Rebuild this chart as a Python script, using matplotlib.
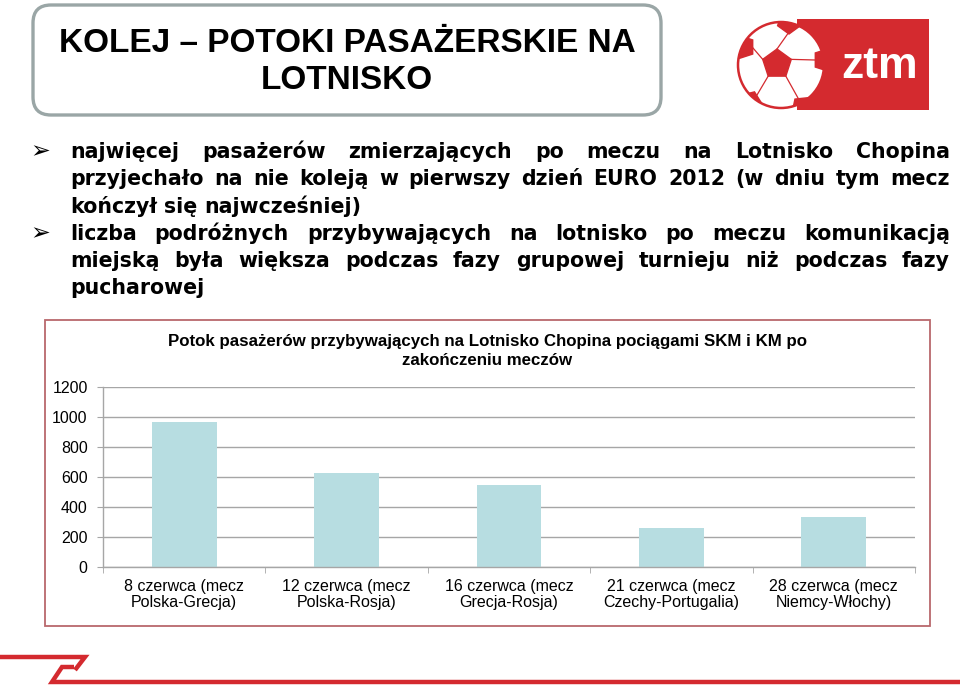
import numpy as np
import matplotlib.pyplot as plt
from matplotlib.patches import Rectangle, FancyBboxPatch, Circle, Polygon

# dane
kategorie = ['8 czerwca (mecz\nPolska-Grecja)', '12 czerwca (mecz\nPolska-Rosja)',
             '16 czerwca (mecz\nGrecja-Rosja)', '21 czerwca (mecz\nCzechy-Portugalia)',
             '28 czerwca (mecz\nNiemcy-Włochy)']
pasazerowie = [969, 625, 547, 262, 335]
y_ticks = [0, 200, 400, 600, 800, 1000, 1200]

tytul = 'KOLEJ – POTOKI PASAŻERSKIE NA\nLOTNISKO'
tytul_wykresu = 'Potok pasażerów przybywających na Lotnisko Chopina pociągami SKM i KM po\nzakończeniu meczów'
# (tekst linii, wyjustowana?, punktor?)
linie = [
    ('najwięcej pasażerów zmierzających po meczu na Lotnisko Chopina', True, True),
    ('przyjechało na nie koleją w pierwszy dzień EURO 2012 (w dniu tym mecz', True, False),
    ('kończył się najwcześniej)', False, False),
    ('liczba podróżnych przybywających na lotnisko po meczu komunikacją', True, True),
    ('miejską była większa podczas fazy grupowej turnieju niż podczas fazy', True, False),
    ('pucharowej', False, False),
]

RED = '#d42a2f'
W, H = 960, 697

fig = plt.figure(figsize=(W / 100, H / 100), dpi=100)
bg = fig.add_axes([0, 0, 1, 1])
bg.set_xlim(0, W)
bg.set_ylim(H, 0)
bg.axis('off')

# ramka tytułu
bg.add_patch(FancyBboxPatch((33, 5), 628, 110, boxstyle='round,pad=0,rounding_size=18',
                            fc='white', ec='#9aa6a6', lw=2.4))
bg.text(347, 62, tytul, ha='center', va='center', fontsize=24, fontweight='bold',
        family='Liberation Sans', linespacing=1.27, color='black')

# logo ztm
bg.add_patch(Rectangle((797, 19), 132, 91, fc=RED, ec='none'))
ball = Circle((781, 65), 43, fc='white', ec=RED, lw=1.8, zorder=3)
bg.add_patch(ball)


def pentagon(cx, cy, r, rot):
    a = np.deg2rad(rot) + np.arange(5) * 2 * np.pi / 5
    return np.column_stack((cx + r * np.cos(a), cy + r * np.sin(a)))


central = pentagon(777, 64, 15, -90)
bg.add_patch(Polygon(central, fc=RED, ec=RED, zorder=4))
outer = [(789, 22, 12, 90), (743, 47, 12, 180), (825, 60, 12, 0),
         (750, 103, 12, 220), (803, 108, 12, 300)]
for cx, cy, r, rot in outer:
    p = Polygon(pentagon(cx, cy, r, rot), fc=RED, ec=RED, zorder=4)
    bg.add_patch(p)
    p.set_clip_path(ball)
kon = [(789, 32), (815, 60), (798, 98), (757, 95), (753, 48)]
for (vx, vy), (cx, cy) in zip(central, kon):
    ln, = bg.plot([vx, cx], [vy, cy], color=RED, lw=0.9, zorder=3.5)
    ln.set_clip_path(ball)
bg.text(880, 66, 'ztm', ha='center', va='center', fontsize=32, fontweight='bold',
        family='Liberation Sans', color='white', zorder=5)

# punkty tekstu (wyjustowane)
renderer = fig.canvas.get_renderer()
x0, x1 = 70, 950
fs = 14.8
for i, (tekst, justuj, punktor) in enumerate(linie):
    y = 158 + 27.3 * i
    if punktor:
        bg.text(40, y, '➢', ha='center', va='baseline', fontsize=17, color='black',
                family='DejaVu Sans', fontweight='bold')
    slowa = tekst.split()
    objs = [bg.text(0, y, s, ha='left', va='baseline', fontsize=fs, fontweight='bold',
                    family='DejaVu Sans', color='black') for s in slowa]
    szer = [o.get_window_extent(renderer=renderer).width for o in objs]
    if justuj and len(objs) > 1:
        gap = (x1 - x0 - sum(szer)) / (len(objs) - 1)
    else:
        gap = fs * 100 / 72 * 0.348
    x = x0
    for o, w in zip(objs, szer):
        o.set_x(x)
        x += w + gap

# ramka wykresu
bg.add_patch(Rectangle((45, 320), 885, 306, fc='white', ec='#b9686c', lw=1.3))
bg.text(487, 351, tytul_wykresu, ha='center', va='center', fontsize=12.2, fontweight='bold',
        family='Liberation Sans', color='black', linespacing=1.35)

# dolna dekoracja
bg.plot([0, 85, 75], [657, 657, 670], color=RED, lw=3.2, solid_capstyle='butt',
        solid_joinstyle='miter')
bg.plot([74, 62, 52, 960], [667, 667, 682, 682], color=RED, lw=3.2,
        solid_capstyle='butt', solid_joinstyle='miter')

# wykres słupkowy
ax = fig.add_axes([103 / W, 1 - 567 / H, 812 / W, 180 / H])
ax.set_facecolor('none')
x = np.arange(len(pasazerowie))
ax.bar(x, pasazerowie, width=0.4, color='#b7dde1', zorder=2)
ax.set_xlim(-0.5, len(pasazerowie) - 0.5)
ax.set_ylim(0, 1200)
ax.set_yticks(y_ticks)
ax.set_yticklabels([str(v) for v in y_ticks], family='Liberation Sans', fontsize=11.5)
ax.set_xticks(x)
ax.set_xticklabels(kategorie, family='Liberation Sans', fontsize=11.5, linespacing=1.05)
ax.set_xticks(np.arange(-0.5, len(pasazerowie)), minor=True)
ax.grid(axis='y', color='#a6a6a6', lw=1.0, zorder=1)
for s in ['top', 'right']:
    ax.spines[s].set_visible(False)
for s in ['left', 'bottom']:
    ax.spines[s].set_color('#a6a6a6')
    ax.spines[s].set_linewidth(1.0)
ax.tick_params(axis='y', length=4, color='#a6a6a6', pad=7)
ax.tick_params(axis='x', which='major', length=0, pad=9)
ax.tick_params(axis='x', which='minor', length=4, color='#a6a6a6')

fig.savefig('out.png', dpi=100)
